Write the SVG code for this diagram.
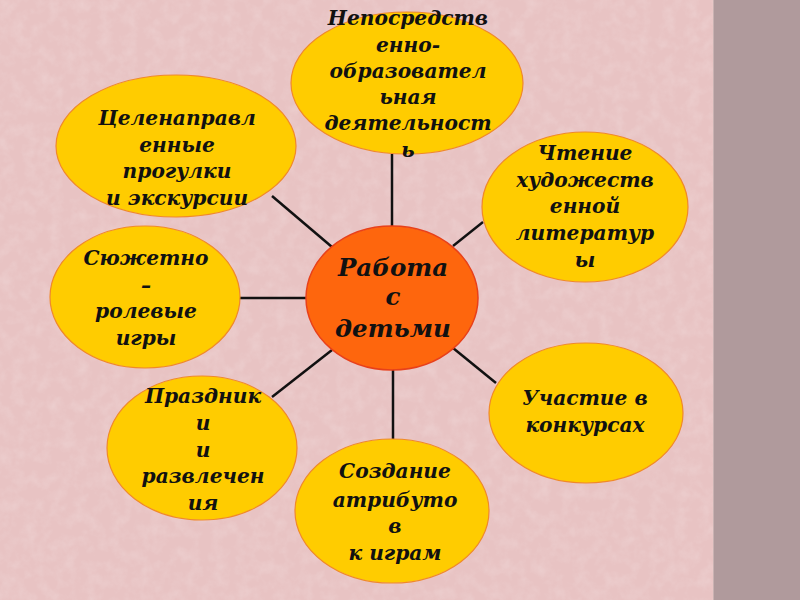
<svg xmlns="http://www.w3.org/2000/svg" width="800" height="600" viewBox="0 0 800 600">
<defs>
<filter id="tex" x="0" y="0" width="100%" height="100%">
<feTurbulence type="fractalNoise" baseFrequency="0.08" numOctaves="3" seed="4"/>
<feColorMatrix type="matrix" values="0 0 0 0 1  0 0 0 0 1  0 0 0 0 1  0 0 0 -0.9 0.55"/>
</filter>
<style>
.bub{fill:#ffcc00;stroke:#f0892a;stroke-width:1.2}
.ctr{fill:#fe660d;stroke:#e8401a;stroke-width:1.5}
.t{font-family:"DejaVu Serif","Liberation Serif",serif;font-weight:bold;font-style:italic;font-size:20.2px;fill:#111;text-anchor:middle}
.tc{font-size:24.5px}
.ln{stroke:#111;stroke-width:2.5;fill:none}
</style>
</defs>
<rect x="0" y="0" width="800" height="600" fill="#e8c3c3"/>
<rect x="0" y="0" width="713" height="600" filter="url(#tex)" opacity="0.35"/>
<rect x="713" y="0" width="87" height="600" fill="#b09a9c"/>
<line x1="713.5" y1="0" x2="713.5" y2="600" stroke="#c9b2b2" stroke-width="1"/>

<g id="connectors">
<line class="ln" x1="392" y1="154" x2="392" y2="227"/>
<line class="ln" x1="272" y1="196" x2="332" y2="247"/>
<line class="ln" x1="239" y1="298" x2="306" y2="298"/>
<line class="ln" x1="272" y1="397" x2="332" y2="350"/>
<line class="ln" x1="393" y1="369" x2="393" y2="440"/>
<line class="ln" x1="453" y1="348" x2="496" y2="383"/>
<line class="ln" x1="453" y1="246" x2="483" y2="222"/>
</g>

<g id="node-top">
<ellipse class="bub" cx="407" cy="83" rx="116" ry="71"/>
<text class="t" x="408" y="25">Непосредств</text>
<text class="t" x="408" y="52">енно-</text>
<text class="t" x="408" y="78">образовател</text>
<text class="t" x="408" y="104">ьная</text>
<text class="t" x="408" y="130">деятельност</text>
<text class="t" x="408" y="157">ь</text>
</g>

<g id="node-walks">
<ellipse class="bub" cx="176" cy="146" rx="120" ry="71"/>
<text class="t" x="177" y="125">Целенаправл</text>
<text class="t" x="177" y="152">енные</text>
<text class="t" x="177" y="178">прогулки</text>
<text class="t" x="177" y="205">и экскурсии</text>
</g>

<g id="node-roleplay">
<ellipse class="bub" cx="145" cy="297" rx="95" ry="71"/>
<text class="t" x="146" y="265">Сюжетно</text>
<text class="t" x="146" y="292">–</text>
<text class="t" x="146" y="318">ролевые</text>
<text class="t" x="146" y="345">игры</text>
</g>

<g id="node-holidays">
<ellipse class="bub" cx="202" cy="448" rx="95" ry="72"/>
<text class="t" x="203" y="403">Праздник</text>
<text class="t" x="203" y="430">и</text>
<text class="t" x="203" y="457">и</text>
<text class="t" x="203" y="483">развлечен</text>
<text class="t" x="203" y="510">ия</text>
</g>

<g id="node-attributes">
<ellipse class="bub" cx="392" cy="511" rx="97" ry="72"/>
<text class="t" x="395" y="478">Создание</text>
<text class="t" x="395" y="507">атрибуто</text>
<text class="t" x="395" y="533">в</text>
<text class="t" x="395" y="560">к играм</text>
</g>

<g id="node-contests">
<ellipse class="bub" cx="586" cy="413" rx="97" ry="70"/>
<text class="t" x="585" y="405">Участие в</text>
<text class="t" x="585" y="432">конкурсах</text>
</g>

<g id="node-reading">
<ellipse class="bub" cx="585" cy="207" rx="103" ry="75"/>
<text class="t" x="585" y="160">Чтение</text>
<text class="t" x="585" y="187">художеств</text>
<text class="t" x="585" y="213">енной</text>
<text class="t" x="585" y="240">литератур</text>
<text class="t" x="585" y="267">ы</text>
</g>

<g id="node-center">
<ellipse class="ctr" cx="392" cy="298" rx="86" ry="72"/>
<text class="t tc" x="393" y="276">Работа</text>
<text class="t tc" x="393" y="305">с</text>
<text class="t tc" x="393" y="337">детьми</text>
</g>
</svg>
